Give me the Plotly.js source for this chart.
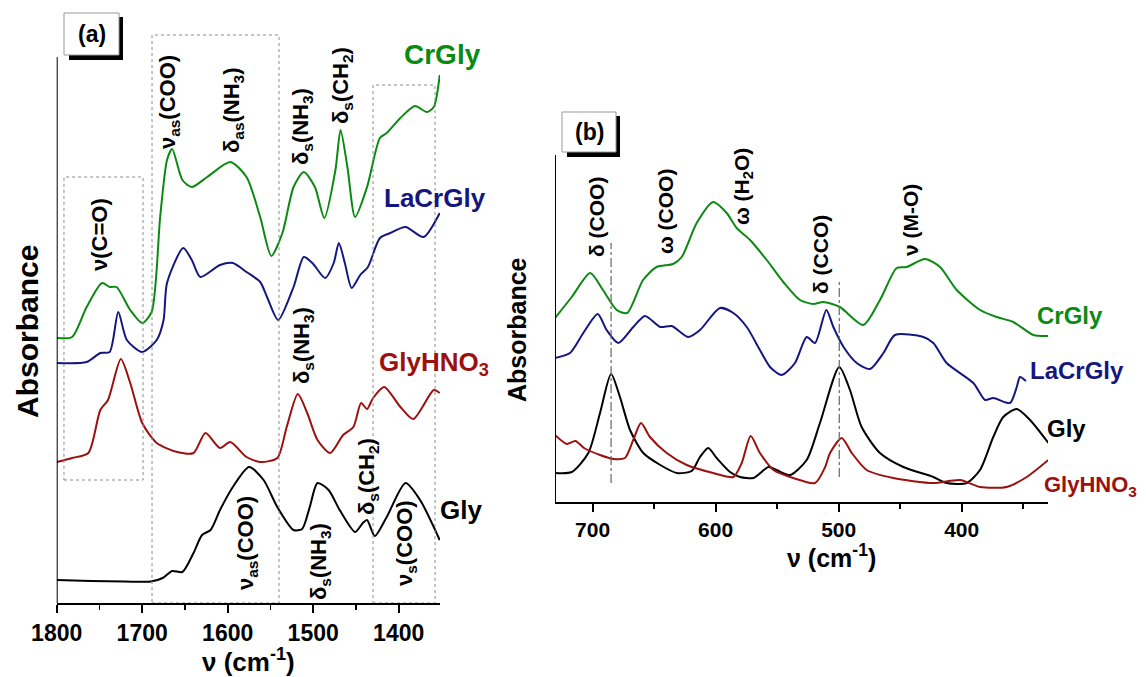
<!DOCTYPE html>
<html>
<head>
<meta charset="utf-8">
<script src="https://cdn.plot.ly/plotly-3.0.1.min.js"></script>
<style>html,body{margin:0;padding:0;background:#fff;}#chart{width:1146px;height:677px;}</style>
</head>
<body>
<div id="chart"></div>
<script>
// ---------- Panel (a) data: wavenumber (cm-1) vs absorbance (arb. units, offset) ----------
const aGlyX = [1800,1760,1720,1690,1676,1665,1653,1640,1630,1620,1609,1594,1575,1558,1542,1523,1513,1504,1495,1482,1469,1451,1442,1437,1428,1414,1392,1375,1352];
const aGlyY = [23,22,21.5,21.5,25,32,31,50,68,73,93,116,136,123,96,73,74,96,120,113,93,71,80,83,67,86,120,103,63];

const aHNO3X = [1800,1782,1763,1749,1740,1725,1714,1700,1683,1659,1640,1626,1609,1597,1578,1562,1542,1531,1518,1507,1495,1480,1465,1453,1444,1437,1430,1417,1398,1383,1359,1352];
const aHNO3Y = [141,145,150,193,203,244,220,180,160,151,150,170,155,161,146,141,145,176,209,190,163,150,168,176,200,194,205,216,196,184,213,210];

const aLaCrX = [1800,1765,1749,1738,1728,1718,1700,1683,1675,1671,1652,1642,1632,1609,1594,1578,1562,1554,1541,1523,1511,1501,1486,1476,1470,1463,1455,1445,1436,1422,1410,1392,1371,1352];
const aLaCrY = [240,241,250,251,291,263,251,263,283,320,355,343,326,338,340,331,321,306,283,316,346,340,325,340,360,340,315,328,336,365,370,376,366,390];

const aCrX = [1800,1782,1765,1747,1738,1730,1714,1700,1689,1679,1671,1665,1653,1642,1624,1597,1578,1562,1549,1536,1523,1511,1498,1487,1474,1468,1460,1451,1437,1422,1414,1398,1381,1367,1359,1352];
const aCrY = [265,266,296,320,316,316,293,280,291,386,443,454,423,416,426,441,426,386,347,370,416,431,416,385,433,473,436,386,416,465,470,485,497,491,496,528];

// ---------- Panel (b) data ----------
const bCrX = [730.6,717,702,691.6,680.4,672,659,648,634.6,627.6,615.4,602,591,582.9,572,558.5,545,531.4,520.6,512.5,499,480,466.4,452.8,444.7,429.8,417.6,404,385,371.5,358,341.7,329.5];
const bCrY = [184,205,229,212,192,189,222,235,238,245,279,300,289,274,262,242,220,202,198,200,195,177,202,234,235,243,235,212,192,185,180,167,166];

const bLaCrX = [730.6,718.4,707.6,695.9,688.6,679.1,667,657.4,645,635.7,622.2,612.7,596.5,585.6,574.7,564,555.8,546.3,535.5,526,519.2,510,504.3,496,485.3,474.5,463.6,454.2,431.1,423,412.2,390.5,381,374.3,360.7,355.2,352.6,347.7];
const bLaCrY = [144,149,169,188,172,159,175,186,175,176,165,172,194,189,175,152,135,127,139,165,159,192,175,155,139,133,149,167,165,159,139,119,102,104,99,115,125,121];

const bGlyX = [730.6,717,703.5,694,685,677.8,669.6,658.8,645,631.6,619.5,612.7,606,599.2,588.3,580.2,569.4,557,550.4,539.5,526,515.2,499.5,490.8,481.3,466.4,447.4,423,412.2,396,385.1,374.3,366.2,355.2,344.4,329.5];
const bGlyY = [29,30,49,89,128,105,72,49,37,29,31,45,54,44,30,25,24,35,32,27,42,79,135,112,75,49,35,25,19,19,32,65,85,93,82,59];

const bHNO3X = [730.6,721,714,707,694,683.2,673.7,667,660.7,653.4,639.8,623.5,602,585.6,578.8,571.5,564,553,536.9,519.2,511,507,497.5,489.3,477.2,455.6,423,401.3,385.1,363.4,347.1,329.5];
const bHNO3Y = [67,58,61,54,47,43,44,62,79,65,49,37,29,25,39,66,49,32,24,19,35,49,64,49,32,24,19,22,15,15,25,42];

// tick labels
const aTicks = [1800,1700,1600,1500,1400];
const bTicks = [700,600,500,400];

// ---------- styling ----------
const W = 1146, H = 677;
const GREEN = '#0b8a12', BLUE = '#161680', RED = '#9c1010', BLACK = '#000000';
const FONT = 'Liberation Sans, Arial, sans-serif';
const px = v => v / W;
const py = v => (H - v) / H;

function tr(x, y, color, xa, ya) {
  return {x: x, y: y, type: 'scatter', mode: 'lines', xaxis: xa, yaxis: ya,
    line: {color: color, width: 2, shape: 'spline', smoothing: 0.7}, hoverinfo: 'skip'};
}

const data = [
  tr(aGlyX, aGlyY, BLACK, 'x', 'y'),
  tr(aHNO3X, aHNO3Y, RED, 'x', 'y'),
  tr(aLaCrX, aLaCrY, BLUE, 'x', 'y'),
  tr(aCrX, aCrY, GREEN, 'x', 'y'),
  tr(bGlyX, bGlyY, BLACK, 'x2', 'y2'),
  tr(bHNO3X, bHNO3Y, RED, 'x2', 'y2'),
  tr(bLaCrX, bLaCrY, BLUE, 'x2', 'y2'),
  tr(bCrX, bCrY, GREEN, 'x2', 'y2')
];

function xax(domain, range, ticks, size) {
  return {domain: domain, range: range, showline: true, linewidth: 2, linecolor: '#000',
    ticks: 'outside', ticklen: 8, tickwidth: 2, tickcolor: '#000', tickvals: ticks,
    ticktext: ticks.map(String), tickfont: {family: FONT, size: size, color: '#000', weight: 'bold'},
    minor: {dtick: 50, tick0: 0, ticks: 'outside', ticklen: 5, tickwidth: 1.5, tickcolor: '#000'},
    showgrid: false, zeroline: false, fixedrange: true};
}
function yax(domain, range, anchor) {
  return {domain: domain, range: range, anchor: anchor, showline: false, showticklabels: false,
    ticks: '', showgrid: false, zeroline: false, fixedrange: true};
}

const layout = {
  width: W, height: H, margin: {l: 0, r: 0, t: 0, b: 0},
  paper_bgcolor: '#fff', plot_bgcolor: 'rgba(0,0,0,0)', showlegend: false,
  xaxis: Object.assign(xax([px(56.7), px(440)], [1800, 1351.7], aTicks, 23), {anchor: 'y'}),
  yaxis: yax([py(603), py(20)], [0, 583], 'x'),
  xaxis2: Object.assign(xax([px(555), px(1048)], [730.6, 329.8], bTicks, 21), {anchor: 'y2'}),
  yaxis2: yax([py(502), py(100)], [0, 402], 'x2'),
  shapes: [],
  annotations: []
};

const S = layout.shapes, A = layout.annotations;
// y-axis lines
S.push({type: 'line', xref: 'x', yref: 'y', x0: 1800, x1: 1800, y0: 0, y1: 546, line: {color: '#000', width: 2}});
S.push({type: 'line', xref: 'x2', yref: 'y2', x0: 730.6, x1: 730.6, y0: 0, y1: 347, line: {color: '#000', width: 2}});
// dotted boxes panel a
const boxStyle = {color: '#8a8a8a', width: 1, dash: 'dot'};
S.push({type: 'rect', xref: 'x', yref: 'y', x0: 1791.5, x1: 1699, y0: 123, y1: 426, line: boxStyle});
S.push({type: 'rect', xref: 'x', yref: 'y', x0: 1688.5, x1: 1540, y0: 0, y1: 568, line: boxStyle});
S.push({type: 'rect', xref: 'x', yref: 'y', x0: 1430, x1: 1357.5, y0: 0, y1: 518, line: boxStyle});
// dash-dot lines panel b
S.push({type: 'line', xref: 'x2', yref: 'y2', x0: 685, x1: 685, y0: 19, y1: 259, line: {color: '#666', width: 1.2, dash: 'dashdot'}});
S.push({type: 'line', xref: 'x2', yref: 'y2', x0: 499.5, x1: 499.5, y0: 25, y1: 220, line: {color: '#666', width: 1.2, dash: 'dashdot'}});
// panel label boxes with shadow
function labelBox(x0, y0, x1, y1, txt) {
  S.push({type: 'rect', xref: 'paper', yref: 'paper', x0: px(x0 + 5), x1: px(x1 + 4), y0: py(y1 + 5), y1: py(y0 + 4), fillcolor: '#000', line: {width: 0}, layer: 'above'});
  S.push({type: 'rect', xref: 'paper', yref: 'paper', x0: px(x0), x1: px(x1), y0: py(y1), y1: py(y0), fillcolor: '#fff', line: {color: '#999', width: 1}, layer: 'above'});
  A.push({xref: 'paper', yref: 'paper', x: px((x0 + x1) / 2), y: py((y0 + y1) / 2), text: '<b>' + txt + '</b>', showarrow: false, xanchor: 'center', yanchor: 'middle', font: {family: FONT, size: 23, color: '#000'}});
}
labelBox(64, 13, 119, 55, '(a)');
labelBox(562, 112, 616, 152, '(b)');

function txt(x, y, t, size, color, angle, xanchor) {
  A.push({xref: 'paper', yref: 'paper', x: px(x), y: py(y), text: '<b>' + t + '</b>', showarrow: false,
    xanchor: xanchor || 'center', yanchor: 'middle', textangle: angle || 0,
    font: {family: FONT, size: size, color: color}});
}
// axis titles
txt(27, 332, 'Absorbance', 30, '#000', -90);
txt(517, 330, 'Absorbance', 25, '#000', -90);
txt(248, 660, 'ν (cm<sup>-1</sup>)', 26, '#000');
txt(831, 556, 'ν (cm<sup>-1</sup>)', 25, '#000');
// series labels panel a
txt(402, 54, 'CrGly', 28, GREEN, 0, 'left');
txt(382, 198, 'LaCrGly', 26, BLUE, 0, 'left');
txt(377, 363, 'GlyHNO<sub>3</sub>', 26, RED, 0, 'left');
txt(438, 510, 'Gly', 26, BLACK, 0, 'left');
// series labels panel b
txt(1035, 315, 'CrGly', 24, GREEN, 0, 'left');
txt(1028, 370, 'LaCrGly', 24, BLUE, 0, 'left');
txt(1045, 428, 'Gly', 24, BLACK, 0, 'left');
txt(1042, 486, 'GlyHNO<sub>3</sub>', 22, RED, 0, 'left');
// band assignments panel a
const LA = 22;
txt(100, 235, 'ν(C=O)', LA, '#000', -90);
txt(169, 102, 'ν<sub>as</sub>(COO)', LA, '#000', -90);
txt(233, 111, 'δ<sub>as</sub>(NH<sub>3</sub>)', LA, '#000', -90);
txt(302, 127, 'δ<sub>s</sub>(NH<sub>3</sub>)', LA, '#000', -90);
txt(342, 86, 'δ<sub>s</sub>(CH<sub>2</sub>)', LA, '#000', -90);
txt(303, 345, 'δ<sub>s</sub>(NH<sub>3</sub>)', LA, '#000', -90);
txt(368, 477, 'δ<sub>s</sub>(CH<sub>2</sub>)', LA, '#000', -90);
txt(247, 543, 'ν<sub>as</sub>(COO)', LA, '#000', -90);
txt(320, 562, 'δ<sub>s</sub>(NH<sub>3</sub>)', LA, '#000', -90);
txt(406, 543, 'ν<sub>s</sub>(COO)', LA, '#000', -90);
// band assignments panel b
const LB = 21;
txt(596, 217, 'δ (COO)', LB, '#000', -90);
txt(665, 212, 'ω (COO)', LB, '#000', -90);
txt(743, 187, 'ω (H<sub>2</sub>O)', LB, '#000', -90);
txt(820, 255, 'δ (CCO)', LB, '#000', -90);
txt(911, 220, 'ν (M-O)', LB, '#000', -90);

Plotly.newPlot('chart', data, layout, {staticPlot: true, displayModeBar: false});
</script>
</body>
</html>
